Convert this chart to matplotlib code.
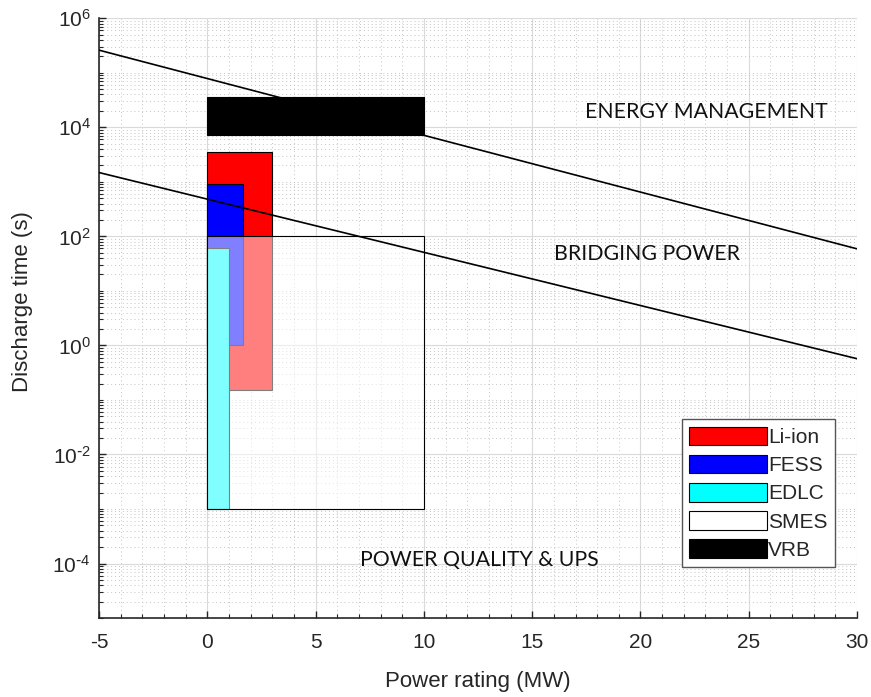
import numpy as np
import matplotlib
matplotlib.use("Agg")
import matplotlib.pyplot as plt
from matplotlib.patches import Rectangle
from matplotlib.ticker import (LogLocator, MultipleLocator, FixedLocator,
                               NullFormatter, FuncFormatter)

plt.rcParams['font.family'] = ['Liberation Sans', 'DejaVu Sans']
plt.rcParams['axes.unicode_minus'] = False

# Technologies: (name, P_min MW, P_max MW, t_min s, t_max s, colour)
tech_names = ["VRB", "Li-ion", "FESS", "EDLC", "SMES"]
p_min = [0.0, 0.0, 0.0, 0.0, 0.0]
p_max = [10.0, 3.0, 1.65, 1.0, 10.0]
t_min = [7.2e3, 0.15, 1.0, 1e-3, 1e-3]
t_max = [3.6e4, 3.6e3, 900.0, 60.0, 100.0]
face_colors = ["#000000", "#ff0000", "#0000ff", "#00ffff", (1, 1, 1, 0.5)]
legend_order = ["Li-ion", "FESS", "EDLC", "SMES", "VRB"]

# Boundary lines (power rating vs discharge time)
line_x = [-5, 30]
line_upper = [2.6e5, 59]
line_lower = [1.48e3, 0.57]

region_labels = ["ENERGY MANAGEMENT", "BRIDGING POWER", "POWER QUALITY & UPS"]
region_x = [23.05, 20.3, 12.55]
region_y = [1.9e4, 47, 1.15e-4]

y_major = [1e-4, 1e-2, 1e0, 1e2, 1e4, 1e6]


def pow_fmt(v, pos):
    e = int(round(np.log10(v)))
    if e < 0:
        return r'$\mathdefault{10^{\text{-}%d}}$' % (-e)
    return r'$\mathdefault{10^{%d}}$' % e


fig = plt.figure(figsize=(8.71, 6.97), dpi=100)
ax = fig.add_axes([0.1137, 0.1133, 0.8703, 0.8605])
ax.set_yscale('log')
ax.set_xlim(-5, 30)
ax.set_ylim(1e-5, 1e6)

axcol = '#262626'
ax.set_xticks(np.arange(-5, 31, 5))
ax.xaxis.set_minor_locator(MultipleLocator(1))
ax.yaxis.set_major_locator(FixedLocator(y_major))
ax.yaxis.set_major_formatter(FuncFormatter(pow_fmt))
ax.yaxis.set_minor_locator(LogLocator(base=10, subs=np.arange(1, 10), numticks=50))
ax.yaxis.set_minor_formatter(NullFormatter())

ax.grid(True, which='major', color='#dadada', linestyle='-', linewidth=0.8)
ax.grid(True, which='minor', color='#c4c4c4', linestyle=(0, (1, 3)), linewidth=0.7)
ax.set_axisbelow(True)

for s in ['top', 'right']:
    ax.spines[s].set_visible(False)
for s in ['left', 'bottom']:
    ax.spines[s].set_color(axcol)
    ax.spines[s].set_linewidth(1.2)
ax.tick_params(which='both', direction='in', colors=axcol, labelsize=15)
ax.tick_params(which='major', length=5, width=1)
ax.tick_params(which='minor', length=3, width=0.8)
ax.tick_params(axis='x', pad=11)
ax.tick_params(axis='y', pad=6)

handles = {}
for name, x0, x1, y0, y1, fc in zip(tech_names, p_min, p_max, t_min, t_max, face_colors):
    r = Rectangle((x0, y0), x1 - x0, y1 - y0, facecolor=fc, edgecolor='k',
                  linewidth=0.8, label=name, zorder=3)
    ax.add_patch(r)
    handles[name] = r

ax.plot(line_x, line_upper, color='k', linewidth=1.2, zorder=4)
ax.plot(line_x, line_lower, color='k', linewidth=1.2, zorder=4)

for lab, x, y in zip(region_labels, region_x, region_y):
    ax.text(x, y, lab, ha='center', va='center', fontsize=15.3,
            family=['Lato', 'DejaVu Sans'], color='#111111', zorder=5)

ax.set_xlabel('Power rating (MW)', fontsize=16, color=axcol)
ax.xaxis.set_label_coords(0.5, -0.088)
ax.set_ylabel('Discharge time (s)', fontsize=16, color=axcol)
ax.yaxis.set_label_coords(-0.087, 0.527)

leg = ax.legend([handles[n] for n in legend_order], legend_order,
                loc='lower right', bbox_to_anchor=(0.971, 0.085),
                borderaxespad=0.0,
                fontsize=15, handlelength=3.75, handleheight=1.0,
                labelspacing=0.37, handletextpad=0.05, borderpad=0.35,
                fancybox=False, framealpha=1, edgecolor='#555555')
leg.get_frame().set_linewidth(1.0)
for t in leg.get_texts():
    t.set_color(axcol)

fig.savefig('out.png', dpi=100)
